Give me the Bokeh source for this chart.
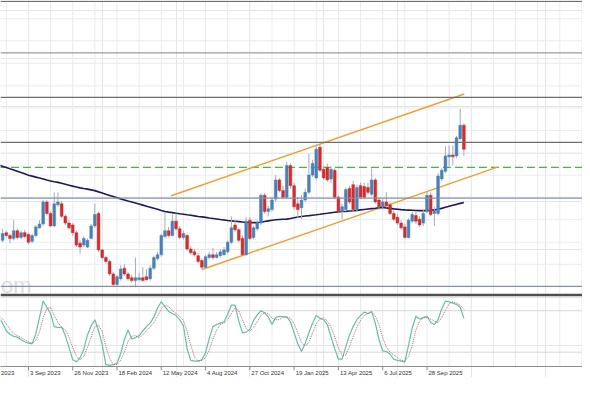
from bokeh.plotting import figure
from bokeh.models import Range1d, ColumnDataSource, Span
from bokeh.core.properties import value
from bokeh.embed import file_html
from bokeh.resources import INLINE

# ---------------- data (weekly bars, week index 0 = 3 Sep 2023) ----------------
weeks = list(range(-7, 119))
opens = [60, 68, 65, 62, 70, 63, 68, 66, 59, 65, 73, 77, 100, 88, 75, 97, 98, 85, 78, 76,
         68, 57, 55, 53, 62, 75, 88, 50, 42, 38, 25, 14, 20, 31, 25, 21, 18, 19, 21, 22,
         20, 31, 41, 45, 64, 70, 65, 80, 72, 63, 65, 51, 48, 44, 39, 32, 42, 45, 42, 44,
         45, 48, 58, 76, 71, 62, 45, 81, 63, 72, 78, 107, 90, 92, 103, 123, 112, 105, 138, 117,
         98, 94, 102, 110, 128, 125, 157, 134, 136, 124, 133, 105, 90, 92, 114, 118, 92, 117, 116, 115,
         108, 123, 102, 95, 100, 97, 88, 84, 78, 74, 63, 80, 86, 82, 78, 90, 107, 88, 88, 124,
         132, 147, 149, 148, 166, 180]
closes = [67, 65, 62, 70, 63, 68, 64, 58, 65, 74, 77, 100, 88, 75, 98, 100, 85, 78, 73, 68,
          55, 53, 62, 60, 75, 87, 50, 42, 38, 25, 14, 22, 30, 25, 20, 18, 21, 21, 18, 19,
          31, 42, 45, 65, 70, 65, 80, 72, 63, 67, 51, 47, 45, 38, 32, 43, 45, 42, 45, 48,
          50, 58, 73, 71, 60, 45, 80, 62, 73, 78, 107, 90, 93, 102, 123, 112, 105, 138, 117, 95,
          92, 102, 110, 128, 140, 155, 133, 125, 123, 134, 105, 90, 95, 113, 100, 92, 115, 105, 105, 110,
          123, 100, 95, 100, 96, 88, 82, 78, 73, 63, 81, 87, 80, 76, 88, 107, 87, 91, 127, 133,
          148, 149, 147, 167, 180, 155]
highs = [72, 70, 67, 81, 72, 70, 71, 68, 67, 76, 81, 102, 102, 90, 110, 110, 101, 87, 81, 78,
         70, 60, 64, 62, 77, 98, 90, 51, 44, 40, 27, 24, 34, 35, 27, 24, 42, 26, 32, 30,
         34, 44, 48, 67, 89, 74, 87, 88, 75, 70, 67, 54, 51, 47, 41, 45, 48, 52, 48, 51,
         53, 60, 85, 80, 73, 65, 84, 84, 75, 81, 109, 109, 96, 105, 128, 125, 117, 142, 140, 120,
         105, 107, 114, 150, 144, 158, 160, 138, 140, 137, 135, 107, 98, 115, 117, 122, 118, 120, 120, 120,
         135, 125, 105, 103, 110, 99, 91, 87, 81, 77, 83, 90, 90, 85, 92, 111, 110, 95, 130, 135,
         158, 159, 159, 169, 197, 182]
lows = [58, 63, 57, 60, 61, 61, 62, 56, 57, 63, 72, 75, 86, 74, 74, 95, 83, 76, 71, 65,
        53, 46, 53, 52, 61, 73, 48, 40, 36, 23, 12, 12, 18, 23, 18, 16, 11, 17, 17, 18,
        18, 29, 39, 43, 62, 63, 64, 70, 61, 61, 49, 45, 43, 36, 30, 31, 40, 40, 41, 42,
        44, 46, 56, 69, 58, 44, 44, 60, 61, 70, 76, 88, 85, 90, 100, 110, 103, 103, 114, 92,
        83, 82, 100, 108, 126, 123, 131, 123, 121, 120, 103, 88, 82, 90, 98, 90, 90, 103, 103, 108,
        106, 98, 92, 92, 94, 86, 80, 76, 71, 62, 62, 78, 77, 74, 75, 88, 85, 75, 86, 122,
        130, 137, 138, 146, 164, 148]

ma_weeks = list(range(-8, 119))
ma_values = [138.5, 137.2, 136.0, 134.6, 133.4, 132.0, 130.6, 129.3, 127.9, 126.9,
             125.9, 124.9, 123.9, 122.8, 121.9, 121.0, 120.4, 119.5, 118.5, 117.5,
             116.5, 115.6, 114.7, 114.0, 113.4, 112.6, 111.8, 110.5, 109.3, 108.0,
             106.8, 105.6, 104.3, 103.2, 102.1, 101.0, 100.0, 98.9, 97.8, 96.7,
             95.6, 94.5, 93.4, 92.3, 91.1, 90.0, 89.4, 88.9, 88.3, 87.7,
             87.2, 86.6, 86.1, 85.5, 84.9, 84.4, 83.9, 83.3, 82.8, 82.3,
             81.7, 81.2, 80.7, 80.3, 79.9, 79.5, 79.1, 78.6, 78.5, 78.5,
             78.5, 78.9, 79.6, 80.3, 81.0, 81.5, 81.7, 81.9, 82.1, 82.8,
             83.6, 84.3, 84.9, 85.3, 85.7, 86.2, 86.6, 87.1, 87.7, 88.2,
             88.8, 89.3, 89.7, 90.0, 90.2, 90.5, 90.8, 91.2, 91.7, 92.2,
             92.6, 93.0, 93.4, 93.9, 94.2, 93.8, 93.3, 92.8, 92.4, 92.0,
             91.7, 91.5, 91.3, 91.1, 91.0, 91.0, 91.0, 91.3, 91.7, 92.5,
             93.3, 94.5, 95.6, 96.6, 97.5, 98.5, 99.4]

stoch_k = [70, 62, 51, 46, 43, 42, 38, 35, 33, 32, 46, 70, 94, 85, 76, 57, 56, 56, 44, 27,
           9, 6, 12, 24, 45, 58, 67, 51, 31, 2, 1, 2, 4, 18, 38, 52, 39, 41, 44, 51,
           57, 62, 71, 84, 93, 86, 79, 76, 73, 67, 58, 25, 8, 7, 7, 9, 19, 40, 57, 60,
           62, 64, 75, 88, 88, 65, 48, 49, 53, 66, 74, 80, 77, 71, 60, 70, 72, 71, 71, 64,
           48, 32, 21, 33, 48, 62, 73, 69, 67, 60, 42, 25, 10, 10, 28, 45, 57, 67, 73, 78,
           76, 79, 62, 38, 22, 21, 17, 10, 8, 7, 6, 30, 55, 72, 68, 70, 72, 63, 60, 67,
           83, 94, 93, 91, 89, 85, 69]
stoch_d = [74, 68, 61, 53, 47, 44, 41, 38, 35, 33, 37, 49, 70, 83, 85, 73, 63, 56, 52, 42,
           27, 14, 9, 14, 27, 42, 57, 59, 50, 28, 11, 2, 2, 8, 20, 36, 43, 44, 41, 45,
           51, 57, 63, 72, 83, 88, 86, 80, 76, 72, 66, 50, 30, 13, 7, 8, 12, 23, 39, 52,
           60, 62, 67, 76, 84, 80, 67, 54, 50, 56, 64, 73, 77, 76, 69, 67, 67, 71, 71, 69,
           61, 48, 34, 29, 34, 48, 61, 68, 70, 65, 56, 42, 26, 15, 16, 28, 43, 56, 66, 73,
           76, 78, 72, 60, 41, 27, 20, 16, 12, 8, 7, 14, 30, 52, 65, 70, 70, 68, 65, 63,
           70, 81, 90, 93, 91, 88, 82]

key_levels = [309, 255.5, 209, 162, 104, 12]
key_colors = ["#6e6e6e", "#9a9aa8", "#6e6e6e", "#6e6e6e", "#8290b0", "#8290b0"]
pivot_level = 136
channel_upper_weeks = [38.7, 118.1]
channel_upper_values = [106.5, 212.5]
channel_lower_weeks = [47.0, 126.9]
channel_lower_values = [29.5, 136.0]

tick_weeks = [0, 12, 24, 36, 48, 60, 72, 84, 96, 108]
tick_labels = ["3 Sep 2023", "26 Nov 2023", "18 Feb 2024", "12 May 2024",
               "4 Aug 2024", "27 Oct 2024", "19 Jan 2025", "13 Apr 2025", "6 Jul 2025",
               "28 Sep 2025"]
edge_label = "2023"          # tail of the 11 Jun 2023 label at the left edge
grid_weeks = list(range(-6, 151, 6))
grid_levels = [291, 268, 244.5, 221, 198, 174.5, 151, 128, 105, 81.5, 58, 35]
stoch_levels = [20, 80]

# ---------------- figure ----------------
p = figure(width=582, height=377, x_range=Range1d(-7.565, 150.14), y_range=Range1d(-83, 310),
           output_backend="svg", toolbar_location=None, min_border=0,
           x_axis_location=None, y_axis_location=None, background_fill_color="white")
p.outline_line_color = None
p.extra_y_ranges = {"stoch": Range1d(-16.67, 529.17)}

grid_col = "#e8ebf2"
# vertical grid (both panels)
p.segment(x0=grid_weeks, x1=grid_weeks, y0=[-71] * len(grid_weeks), y1=[310] * len(grid_weeks),
          line_color=grid_col, line_width=1)
# horizontal grid main panel
p.segment(x0=[-8] * len(grid_levels), x1=[151] * len(grid_levels), y0=grid_levels, y1=grid_levels,
          line_color=grid_col, line_width=1)
# stochastic levels
p.segment(x0=[-8, -8], x1=[151, 151], y0=stoch_levels, y1=stoch_levels, y_range_name="stoch",
          line_color="#d6d6d6", line_width=1)

# key horizontal levels
for lv, c in zip(key_levels, key_colors):
    p.add_layout(Span(location=lv, dimension="width", line_color=c, line_width=1.3))
p.add_layout(Span(location=3, dimension="width", line_color="#505050", line_width=2.5))

# pivot (dashed green)
p.segment(x0=[-8], x1=[151], y0=[pivot_level], y1=[pivot_level], line_color="#3fb93f",
          line_width=1.2, line_dash="8 4")

# watermark
p.text(x=[-7.4], y=[13], text=["om"], text_font=value("Liberation Sans"), text_font_size="22px",
       text_color="#dedede", text_baseline="alphabetic", text_align="left")

# channel lines
p.line(channel_upper_weeks, channel_upper_values, line_color="#f0a030", line_width=1.5)
p.line(channel_lower_weeks, channel_lower_values, line_color="#f0a030", line_width=1.5)

# moving average
p.line(ma_weeks, ma_values, line_color="#1b1b5e", line_width=1.6)

# candles
up = [c >= o for o, c in zip(opens, closes)]
src = ColumnDataSource(dict(
    x=weeks, o=opens, c=closes, h=highs, l=lows,
    top=[max(o, c) for o, c in zip(opens, closes)],
    bot=[min(o, c) for o, c in zip(opens, closes)],
    col=["#4a80b8" if u else "#d42b2b" for u in up],
))
p.segment(x0="x", x1="x", y0="l", y1="h", source=src, line_color="#a3adbd", line_width=1)
p.vbar(x="x", width=0.75, top="top", bottom="bot", source=src, fill_color="col",
       line_color="col", line_width=0.5)

# stochastic
p.line(ma_weeks, stoch_k, y_range_name="stoch", line_color="#63bfae", line_width=1.2)
p.line(ma_weeks, stoch_d, y_range_name="stoch", line_color="#c86464", line_width=1,
       line_dash="1 1")

# bottom axis line, ticks and labels
font = value("Liberation Sans")
p.segment(x0=[-8], x1=[151], y0=[-71.5], y1=[-71.5], line_color="#8a8a8a", line_width=1)
p.segment(x0=tick_weeks, x1=tick_weeks, y0=[-71.5] * len(tick_weeks), y1=[-75.5] * len(tick_weeks),
          line_color="#8a8a8a", line_width=1)
p.text(x=tick_weeks, y=[-78.5] * len(tick_weeks), text=tick_labels, x_offset=1.5,
       text_font=font, text_font_size="6px", text_color="#333333",
       text_baseline="middle", text_align="left")
p.text(x=[-7.565], y=[-78.5], text=[edge_label], x_offset=0.5,
       text_font=font, text_font_size="6px", text_color="#333333",
       text_baseline="middle", text_align="left")

open("out.html", "w").write(file_html(p, INLINE))
